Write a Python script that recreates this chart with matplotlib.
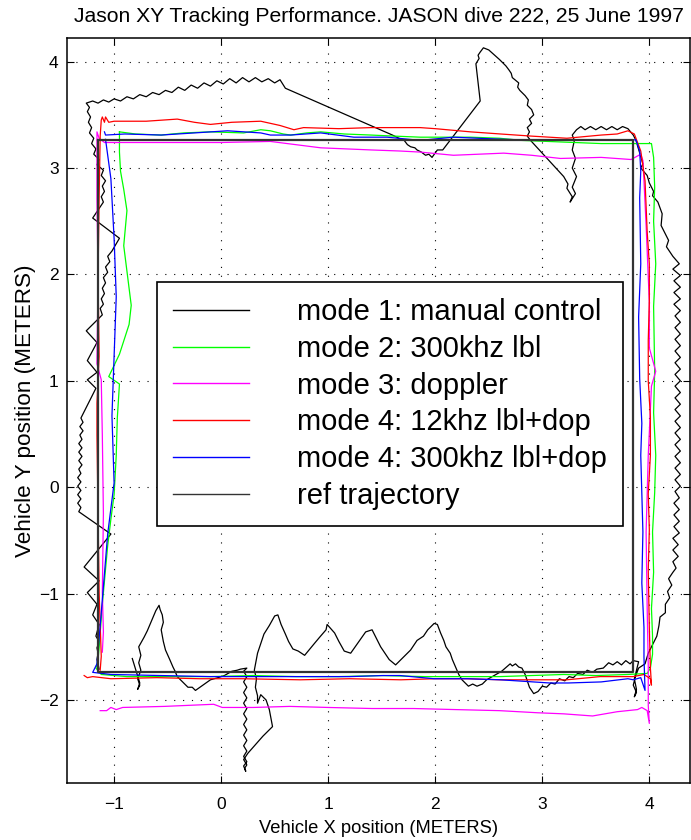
import matplotlib
matplotlib.use("Agg")
import matplotlib.pyplot as plt
import numpy as np

plt.rcParams['font.family'] = ['Liberation Sans', 'DejaVu Sans']

title = "Jason XY Tracking Performance. JASON dive 222, 25 June 1997"
xlabel = "Vehicle X position (METERS)"
ylabel = "Vehicle Y position (METERS)"
labels = ["mode 1: manual control", "mode 2: 300khz lbl", "mode 3: doppler",
          "mode 4: 12khz lbl+dop", "mode 4: 300khz lbl+dop", "ref trajectory"]
xticks = [-1, 0, 1, 2, 3, 4]
yticks = [-2, -1, 0, 1, 2, 3, 4]

# mode 1: manual control (x, y)
manual_xy = [
    (-1.14, -1.71), (-1.16, -1.62), (-1.15, -1.56), (-1.16, -1.51), (-1.14, -1.45), (-1.17, -1.40),
    (-1.14, -1.29), (-1.20, -1.20), (-1.16, -1.10), (-1.25, -0.99), (-1.14, -0.88), (-1.28, -0.75),
    (-1.03, -0.44), (-1.33, -0.23), (-1.31, -0.19), (-1.34, -0.15), (-1.31, -0.11), (-1.34, -0.07),
    (-1.31, -0.03), (-1.34, 0.01), (-1.31, 0.05), (-1.34, 0.09), (-1.31, 0.13), (-1.33, 0.17),
    (-1.30, 0.21), (-1.33, 0.25), (-1.30, 0.29), (-1.33, 0.33), (-1.30, 0.37), (-1.33, 0.41),
    (-1.30, 0.45), (-1.32, 0.49), (-1.29, 0.53), (-1.32, 0.57), (-1.29, 0.61), (-1.31, 0.65),
    (-1.30, 0.67), (-1.17, 0.93), (-1.25, 1.01), (-1.16, 1.08), (-1.25, 1.19), (-1.16, 1.36),
    (-1.26, 1.47), (-1.11, 1.62), (-1.13, 1.68), (-1.10, 1.72), (-1.12, 1.77), (-1.09, 1.82),
    (-1.11, 1.87), (-1.08, 1.92), (-1.10, 1.97), (-1.06, 2.02), (-1.08, 2.07), (-1.04, 2.12),
    (-1.06, 2.17), (-1.02, 2.22), (-0.95, 2.34), (-1.20, 2.53), (-1.10, 2.68), (-1.12, 2.73),
    (-1.09, 2.78), (-1.11, 2.83), (-1.08, 2.88), (-1.12, 2.93), (-1.10, 2.98), (-1.16, 3.03),
    (-1.14, 3.08), (-1.19, 3.13), (-1.17, 3.18), (-1.21, 3.23), (-1.19, 3.28), (-1.23, 3.33),
    (-1.21, 3.38), (-1.24, 3.43), (-1.22, 3.48), (-1.25, 3.53), (-1.23, 3.57), (-1.26, 3.61),
    (-1.20, 3.63), (-1.15, 3.61), (-1.10, 3.64), (-1.05, 3.62), (-1.00, 3.65), (-0.94, 3.63),
    (-0.88, 3.67), (-0.82, 3.65), (-0.76, 3.69), (-0.70, 3.67), (-0.64, 3.71), (-0.58, 3.69),
    (-0.52, 3.73), (-0.46, 3.71), (-0.40, 3.76), (-0.34, 3.73), (-0.28, 3.78), (-0.22, 3.75),
    (-0.16, 3.80), (-0.10, 3.77), (-0.04, 3.82), (0.02, 3.79), (0.08, 3.84), (0.14, 3.80),
    (0.20, 3.85), (0.26, 3.81), (0.32, 3.85), (0.38, 3.81), (0.44, 3.84), (0.50, 3.80),
    (0.55, 3.83), (0.60, 3.75), (1.60, 3.31), (1.66, 3.28), (1.71, 3.26), (1.74, 3.22),
    (1.77, 3.20), (1.81, 3.19), (1.83, 3.17), (1.87, 3.15), (1.91, 3.12), (1.94, 3.13),
    (1.97, 3.10), (2.02, 3.17), (2.07, 3.17), (2.42, 3.63), (2.38, 3.98), (2.41, 4.03),
    (2.40, 4.06), (2.42, 4.09), (2.45, 4.13), (2.50, 4.11), (2.60, 4.02), (2.66, 3.96),
    (2.69, 3.92), (2.71, 3.89), (2.72, 3.85), (2.78, 3.80), (2.77, 3.76), (2.79, 3.73),
    (2.84, 3.68), (2.87, 3.64), (2.86, 3.59), (2.90, 3.55), (2.92, 3.50), (2.88, 3.46),
    (2.90, 3.42), (2.86, 3.38), (2.88, 3.34), (2.86, 3.30), (2.89, 3.26), (3.20, 2.92),
    (3.24, 2.85), (3.23, 2.81), (3.28, 2.73), (3.26, 2.68), (3.31, 2.76), (3.28, 2.82),
    (3.32, 2.92), (3.28, 3.00), (3.31, 3.09), (3.28, 3.17), (3.30, 3.26), (3.28, 3.31),
    (3.32, 3.36), (3.36, 3.39), (3.40, 3.36), (3.45, 3.39), (3.50, 3.36), (3.55, 3.39),
    (3.60, 3.36), (3.65, 3.39), (3.70, 3.36), (3.75, 3.39), (3.80, 3.37), (3.85, 3.31),
    (3.875, 3.26), (3.94, 3.04), (3.92, 3.00), (3.98, 2.93), (4.00, 2.86), (4.04, 2.78),
    (4.03, 2.74), (4.08, 2.68), (4.12, 2.57), (4.11, 2.46), (4.18, 2.32), (4.16, 2.26),
    (4.22, 2.17), (4.28, 2.10), (4.22, 2.05), (4.29, 1.99), (4.23, 1.94), (4.29, 1.88),
    (4.23, 1.83), (4.29, 1.77), (4.23, 1.72), (4.29, 1.66), (4.24, 1.61), (4.29, 1.55),
    (4.24, 1.50), (4.29, 1.44), (4.24, 1.39), (4.29, 1.33), (4.24, 1.28), (4.29, 1.22),
    (4.24, 1.17), (4.29, 1.11), (4.24, 1.06), (4.29, 1.00), (4.24, 0.95), (4.29, 0.89),
    (4.24, 0.84), (4.29, 0.78), (4.24, 0.73), (4.29, 0.67), (4.24, 0.62), (4.29, 0.56),
    (4.24, 0.51), (4.29, 0.45), (4.24, 0.40), (4.29, 0.34), (4.24, 0.29), (4.29, 0.23),
    (4.24, 0.18), (4.29, 0.12), (4.24, 0.07), (4.29, 0.01), (4.24, -0.04), (4.28, -0.10),
    (4.23, -0.15), (4.28, -0.21), (4.23, -0.26), (4.28, -0.32), (4.23, -0.37), (4.28, -0.43),
    (4.22, -0.48), (4.27, -0.54), (4.22, -0.59), (4.27, -0.65), (4.22, -0.70), (4.25, -0.76),
    (4.22, -0.80), (4.18, -0.86), (4.21, -0.92), (4.17, -0.98), (4.19, -1.04), (4.15, -1.10),
    (4.15, -1.18), (4.10, -1.22), (4.09, -1.30), (4.07, -1.40), (4.03, -1.48), (3.99, -1.56),
    (3.96, -1.66), (3.90, -1.70), (3.87, -1.78), (3.85, -1.86), (3.88, -1.93), (3.86, -1.97),
    (3.88, -1.90), (3.86, -1.80), (3.90, -1.64), (3.85, -1.63), (3.82, -1.66), (3.78, -1.63),
    (3.74, -1.67), (3.70, -1.64), (3.66, -1.67), (3.62, -1.65), (3.57, -1.70), (3.51, -1.71),
    (3.47, -1.74), (3.42, -1.72), (3.38, -1.76), (3.33, -1.75), (3.29, -1.79), (3.25, -1.78),
    (3.21, -1.82), (3.16, -1.80), (3.12, -1.85), (3.08, -1.84), (3.04, -1.88), (3.00, -1.87),
    (2.96, -1.92), (2.92, -1.94), (2.88, -1.88), (2.86, -1.82), (2.84, -1.76), (2.81, -1.70),
    (2.78, -1.69), (2.75, -1.66), (2.72, -1.68), (2.70, -1.66), (2.62, -1.73), (2.55, -1.77),
    (2.48, -1.81), (2.44, -1.85), (2.39, -1.87), (2.35, -1.85), (2.31, -1.87), (2.25, -1.81),
    (2.22, -1.76), (2.19, -1.69), (2.16, -1.62), (2.14, -1.56), (2.10, -1.50), (2.08, -1.44),
    (2.05, -1.37), (2.02, -1.29), (1.99, -1.28), (1.93, -1.34), (1.89, -1.40), (1.83, -1.44),
    (1.77, -1.53), (1.70, -1.60), (1.63, -1.67), (1.57, -1.62), (1.53, -1.56), (1.49, -1.50),
    (1.45, -1.42), (1.41, -1.34), (1.35, -1.36), (1.28, -1.46), (1.21, -1.56), (1.15, -1.54),
    (1.10, -1.45), (1.06, -1.37), (0.99, -1.29), (0.98, -1.34), (0.92, -1.41), (0.87, -1.47),
    (0.78, -1.58), (0.72, -1.54), (0.67, -1.52), (0.63, -1.45), (0.60, -1.38), (0.56, -1.29),
    (0.53, -1.20), (0.50, -1.21), (0.45, -1.30), (0.40, -1.38), (0.34, -1.56), (0.31, -1.72),
    (0.33, -1.80), (0.32, -1.88), (0.34, -1.96), (0.34, -2.03), (0.37, -1.95), (0.42, -2.00),
    (0.45, -2.09), (0.48, -2.25), (0.39, -2.34), (0.25, -2.50), (0.21, -2.56), (0.24, -2.61),
    (0.22, -2.64), (0.23, -2.67), (0.21, -2.62), (0.24, -2.58), (0.21, -2.53), (0.24, -2.48),
    (0.21, -2.43), (0.24, -2.38), (0.21, -2.33), (0.24, -2.28), (0.21, -2.23), (0.24, -2.18),
    (0.21, -2.13), (0.24, -2.08), (0.21, -2.03), (0.24, -1.98), (0.21, -1.93), (0.24, -1.88),
    (0.21, -1.83), (0.24, -1.78), (0.21, -1.73), (0.24, -1.70), (0.18, -1.71), (0.15, -1.72),
    (0.10, -1.73), (0.03, -1.77), (-0.03, -1.79), (-0.10, -1.81), (-0.17, -1.86), (-0.24, -1.91),
    (-0.27, -1.88), (-0.31, -1.88), (-0.36, -1.83), (-0.41, -1.78), (-0.43, -1.73), (-0.45, -1.69),
    (-0.48, -1.62), (-0.52, -1.53), (-0.54, -1.45), (-0.56, -1.34), (-0.54, -1.27), (-0.55, -1.20),
    (-0.57, -1.15), (-0.58, -1.11), (-0.61, -1.16), (-0.66, -1.28), (-0.69, -1.35), (-0.72, -1.41),
    (-0.77, -1.50), (-0.75, -1.58), (-0.77, -1.65), (-0.75, -1.72), (-0.78, -1.80), (-0.76, -1.86),
    (-0.78, -1.90), (-0.76, -1.84), (-0.83, -1.61),
]

# mode 2: 300khz lbl
lbl300_xy = [
    (-0.95, 3.34), (-0.80, 3.32), (-0.56, 3.31), (-0.35, 3.33), (-0.10, 3.34), (0.21, 3.33),
    (0.37, 3.36), (0.46, 3.35), (0.58, 3.32), (0.65, 3.31), (0.80, 3.33), (0.93, 3.34),
    (1.15, 3.32), (1.40, 3.31), (1.62, 3.30), (1.86, 3.29), (2.10, 3.29), (2.33, 3.29),
    (2.60, 3.28), (2.80, 3.26), (3.05, 3.25), (3.30, 3.24), (3.55, 3.23), (3.86, 3.23),
    (4.02, 3.23), (4.04, 3.10), (4.05, 2.82), (4.04, 2.50), (4.06, 2.10), (4.04, 1.70),
    (4.05, 1.09), (4.04, 0.70), (4.06, 0.30), (4.05, -0.05), (4.03, -0.42), (4.04, -0.80),
    (4.02, -1.14), (4.03, -1.40), (4.03, -1.57), (4.01, -1.70), (3.98, -1.75), (3.80, -1.76),
    (3.50, -1.77), (3.20, -1.76), (2.90, -1.77), (2.60, -1.78), (2.30, -1.78), (1.90, -1.78),
    (1.50, -1.77), (1.10, -1.78), (0.70, -1.78), (0.30, -1.77), (-0.10, -1.78), (-0.56, -1.78),
    (-0.88, -1.78), (-1.12, -1.76), (-1.17, -1.70), (-1.15, -1.62), (-1.14, -1.51), (-1.11, -1.10),
    (-1.06, -0.55), (-1.03, -0.30), (-1.00, -0.07), (-0.98, 0.30), (-0.97, 0.65), (-0.95, 0.97),
    (-1.05, 1.04), (-0.95, 1.25), (-0.86, 1.53), (-0.84, 1.71), (-0.87, 1.95), (-0.91, 2.27),
    (-0.88, 2.60), (-0.91, 2.80), (-0.94, 2.97), (-0.95, 3.15), (-0.95, 3.34),
]

# mode 3: doppler
doppler_xy = [
    (-1.13, -2.10), (-1.07, -2.10), (-1.03, -2.07), (-0.98, -2.09), (-0.92, -2.07), (-0.53, -2.06),
    (-0.07, -2.04), (0.01, -2.07), (0.30, -2.07), (0.64, -2.06), (1.00, -2.07), (1.41, -2.08),
    (1.80, -2.08), (2.19, -2.09), (2.60, -2.10), (2.96, -2.12), (3.20, -2.13), (3.47, -2.15),
    (3.70, -2.11), (3.89, -2.09), (3.93, -2.07), (3.98, -2.10), (4.00, -2.22), (3.99, -2.05),
    (3.99, -1.68), (3.98, -1.14), (3.97, -0.42), (3.99, 0.30), (4.02, 0.95), (4.06, 1.09),
    (4.00, 1.31), (4.00, 1.74), (3.97, 2.46), (3.95, 2.88), (3.94, 3.07), (3.92, 3.13),
    (3.83, 3.08), (3.55, 3.10), (3.17, 3.09), (2.90, 3.12), (2.64, 3.14), (2.17, 3.12),
    (1.86, 3.15), (1.67, 3.16), (1.40, 3.17), (0.93, 3.19), (0.46, 3.25), (0.00, 3.24),
    (-0.56, 3.24), (-1.09, 3.24), (-1.14, 3.28), (-1.16, 3.34), (-1.16, 3.08), (-1.16, 2.71),
    (-1.15, 1.97), (-1.16, 1.16), (-1.12, 1.01), (-1.11, 0.49), (-1.10, -0.25), (-1.11, -0.99),
    (-1.10, -1.36), (-1.11, -1.55),
]

# mode 4: 12khz lbl+dop
lbl12_xy = [
    (-1.28, -1.77), (-1.25, -1.79), (-1.20, -1.78), (-1.03, -1.80), (-0.60, -1.79), (-0.20, -1.80),
    (0.20, -1.80), (0.74, -1.81), (1.20, -1.80), (1.68, -1.81), (2.00, -1.80), (2.30, -1.80),
    (2.61, -1.81), (2.92, -1.81), (3.23, -1.81), (3.54, -1.78), (3.85, -1.78), (3.95, -1.76),
    (4.01, -1.80), (4.02, -1.86), (4.01, -1.70), (4.00, -1.32), (3.99, -0.78), (4.00, -0.40),
    (3.99, -0.06), (4.01, 0.30), (4.01, 0.66), (3.99, 1.00), (3.99, 1.38), (4.00, 1.75),
    (4.00, 2.10), (3.98, 2.40), (3.97, 2.64), (3.96, 2.88), (3.92, 3.16), (3.86, 3.32),
    (3.80, 3.35), (3.70, 3.32), (3.55, 3.31), (3.23, 3.28), (2.90, 3.30), (2.61, 3.32),
    (2.33, 3.34), (2.00, 3.37), (1.86, 3.38), (1.40, 3.38), (1.10, 3.37), (0.77, 3.38),
    (0.68, 3.36), (0.55, 3.40), (0.37, 3.44), (0.10, 3.43), (-0.10, 3.41), (-0.25, 3.43),
    (-0.41, 3.46), (-0.70, 3.44), (-1.00, 3.44), (-1.05, 3.43), (-1.08, 3.48), (-1.09, 3.43),
    (-1.11, 3.48), (-1.12, 3.45), (-1.13, 3.30), (-1.14, 2.71), (-1.15, 1.97), (-1.14, 1.23),
    (-1.16, 0.79), (-1.16, 0.49), (-1.15, -0.25), (-1.14, -0.99), (-1.12, -1.59), (-1.13, -1.72),
]

# mode 4: 300khz lbl+dop
lbldop300_xy = [
    (-1.09, 3.34), (-1.08, 3.31), (-0.90, 3.32), (-0.56, 3.31), (-0.25, 3.33), (0.06, 3.35),
    (0.37, 3.33), (0.46, 3.31), (0.65, 3.31), (0.93, 3.33), (1.24, 3.29), (1.55, 3.29),
    (1.86, 3.26), (2.17, 3.29), (2.40, 3.28), (2.64, 3.27), (3.00, 3.26), (3.26, 3.26),
    (3.55, 3.26), (3.875, 3.265), (3.91, 3.16), (3.92, 2.97), (3.91, 2.72), (3.92, 2.10),
    (3.90, 1.60), (3.91, 1.02), (3.93, 0.60), (3.92, 0.30), (3.94, -0.42), (3.93, -0.90),
    (3.95, -1.32), (3.95, -1.60), (3.96, -1.91), (3.92, -1.79), (3.85, -1.81), (3.80, -1.80),
    (3.55, -1.83), (3.24, -1.84), (3.07, -1.84), (2.61, -1.81), (2.30, -1.80), (1.99, -1.80),
    (1.67, -1.77), (1.52, -1.77), (1.20, -1.78), (0.74, -1.78), (0.40, -1.78), (-0.10, -1.78),
    (-0.56, -1.77), (-1.03, -1.76), (-1.20, -1.74), (-1.16, -1.66), (-1.12, -1.18), (-1.06, -0.44),
    (-1.00, 0.04), (-1.02, 0.67), (-1.00, 1.23), (-0.98, 1.79), (-1.00, 2.34), (-1.03, 2.90),
    (-1.08, 3.27),
]

# reference trajectory corners
ref_x = [-1.15, 3.85, 3.85, -1.15, -1.15]
ref_y = [3.26, 3.26, -1.74, -1.74, 3.26]

series = [manual_xy, lbl300_xy, doppler_xy, lbl12_xy, lbldop300_xy]
colors = ['black', '#00ff00', '#ff00ff', '#ff0000', '#0000ff']

fig = plt.figure(figsize=(6.91, 8.40), dpi=100)
ax = fig.add_axes([67 / 691, 57 / 840, 623 / 691, (783 - 37.7) / 840])

handles = []
for pts, c in zip(series, colors):
    xs, ys = zip(*pts)
    h, = ax.plot(xs, ys, color=c, lw=0.9)
    handles.append(h)
h, = ax.plot(ref_x, ref_y, color='#333333', lw=1.6)
handles.append(h)

ax.set_xlim(-1.44, 4.38)
ax.set_ylim(-2.78, 4.225)
ax.set_xticks(xticks)
ax.set_yticks(yticks)
ax.grid(True, color='black', linestyle=(0, (1, 7)), linewidth=0.8)
ax.tick_params(direction='in', length=5, width=0.8, top=True, right=True, labelsize=12.5)
ax.tick_params(axis='x', pad=10)
ax.tick_params(axis='y', pad=6)
for s in ax.spines.values():
    s.set_linewidth(1.1)

ax.set_title(title, fontsize=15.2, pad=11)
ax.set_xlabel(xlabel, fontsize=13.2, labelpad=6)
ax.set_ylabel(ylabel, fontsize=16.2, labelpad=2)

leg = ax.legend(handles, labels, loc='upper left', bbox_to_anchor=(157 / 691, 1 - 282 / 840),
                bbox_transform=fig.transFigure, borderaxespad=0, fontsize=21,
                handlelength=2.6, handletextpad=1.64, borderpad=0.55, labelspacing=0.3,
                fancybox=False, framealpha=1, edgecolor='black')
leg.get_frame().set_linewidth(1.2)
for lh in leg.get_lines():
    lh.set_linewidth(1.0)

fig.savefig("out.png", dpi=100)
